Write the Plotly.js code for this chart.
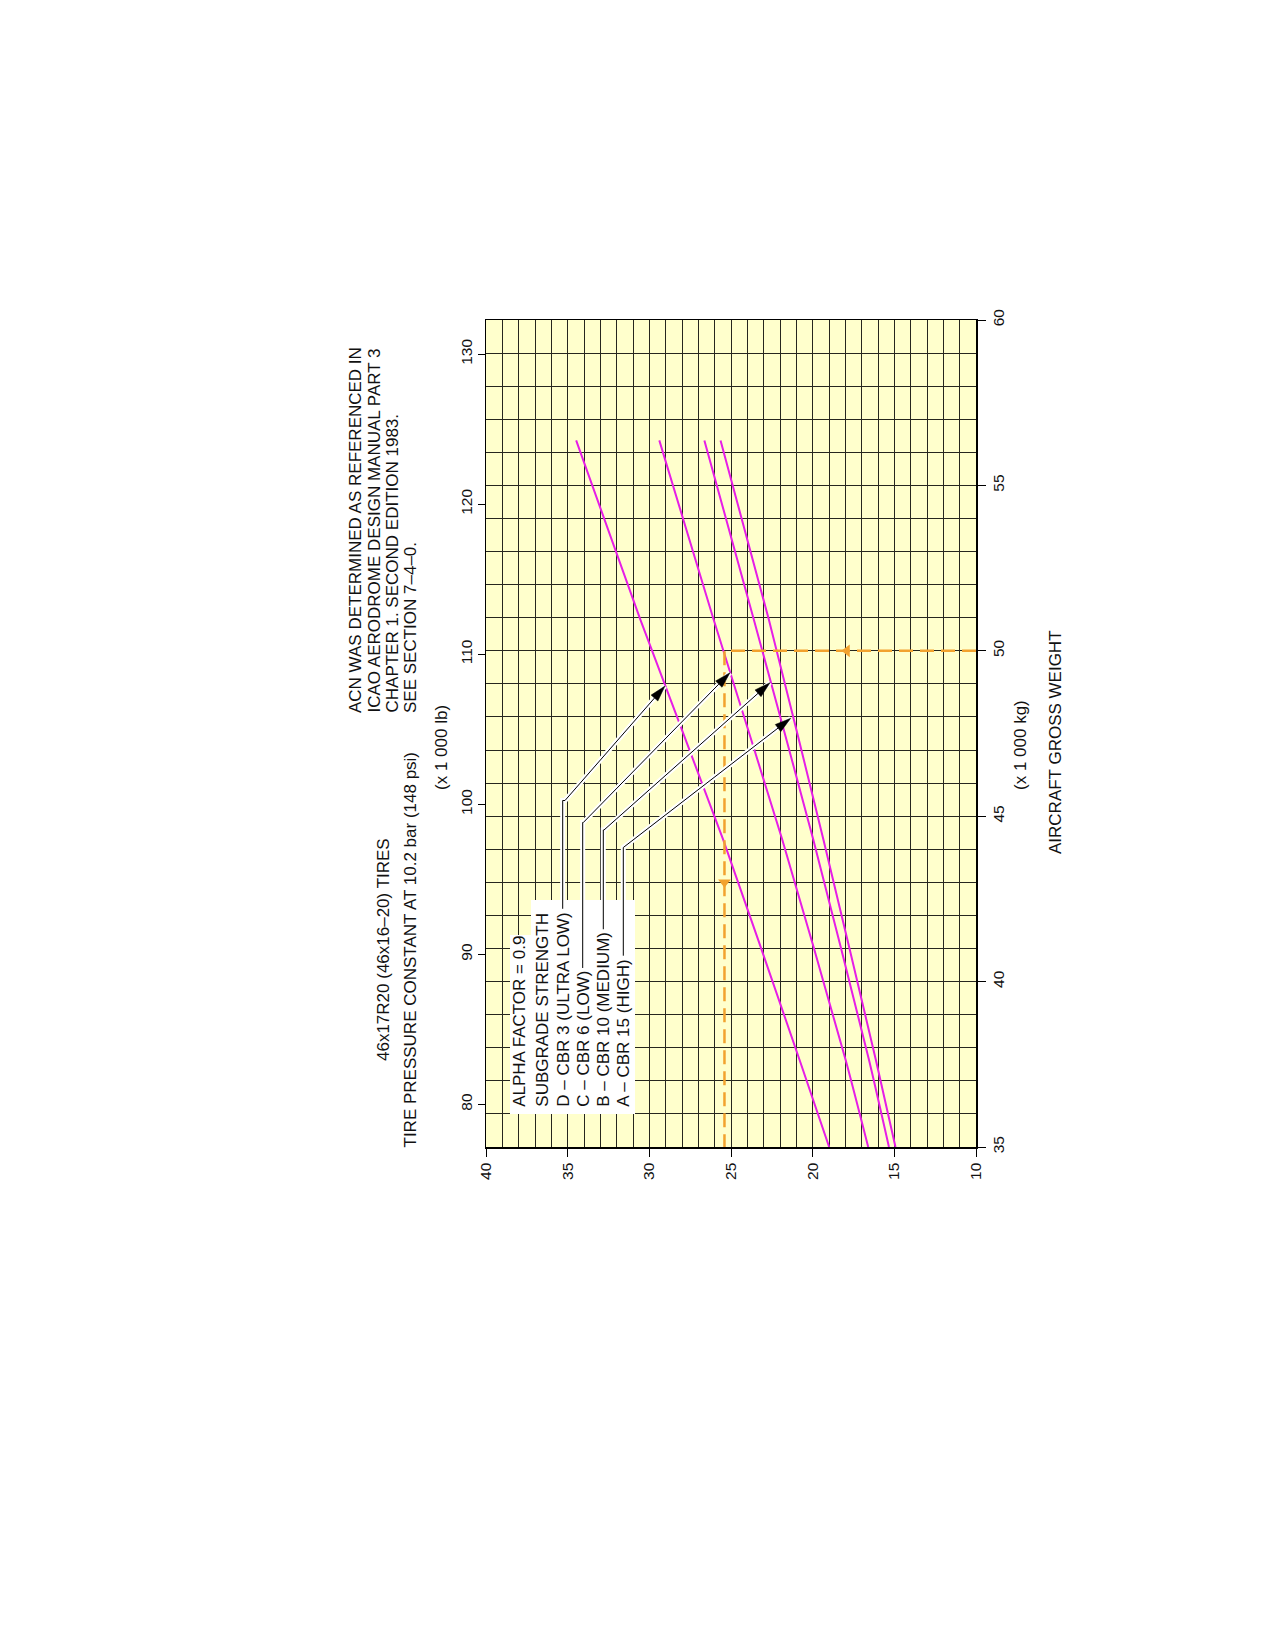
<!DOCTYPE html>
<html>
<head>
<meta charset="utf-8">
<script src="https://cdn.plot.ly/plotly-3.0.1.min.js"></script>
<style>
html,body{margin:0;padding:0;background:#fff;}
#chart{width:1275px;height:1645px;}
</style>
</head>
<body>
<div id="chart"></div>
<script>
// ---------------- DATA ----------------
const weightKg = [35, 37.63, 44.29, 50.94, 56.36];          // x 1000 kg
const acnD_CBR3  = [18.99, 20.80, 25.48, 30.55, 34.48];
const acnC_CBR6  = [16.60, 17.98, 21.86, 26.06, 29.39];
const acnB_CBR10 = [15.33, 16.55, 19.96, 23.60, 26.63];
const acnA_CBR15 = [14.93, 16.13, 19.34, 22.68, 25.64];

const exampleWeight = 50;     // x 1000 kg
const exampleACN = 25.4;
const exampleArrowACN = 17.9;
const exampleArrowWeight = 43;

const kgTicks = [35, 40, 45, 50, 55, 60];
const lbTicks = [80, 90, 100, 110, 120, 130];
const acnTicks = [40, 35, 30, 25, 20, 15, 10];
const KG_TO_LB = 2.20462;

const legendLabels = [
  "ALPHA FACTOR = 0.9",
  "SUBGRADE STRENGTH",
  "D \u2013 CBR 3 (ULTRA LOW)",
  "C \u2013 CBR 6 (LOW)",
  "B \u2013 CBR 10 (MEDIUM)",
  "A \u2013 CBR 15 (HIGH)"
];
const titleLines = ["46x17R20 (46x16\u201320) TIRES", "TIRE PRESSURE CONSTANT AT 10.2 bar (148 psi)"];
const noteLines = ["ACN WAS DETERMINED AS REFERENCED IN", "ICAO AERODROME DESIGN MANUAL PART 3",
                   "CHAPTER 1. SECOND EDITION 1983.", "SEE SECTION 7\u20134\u20130."];

// ---------------- LAYOUT GEOMETRY ----------------
const FONT = "'Liberation Sans', Arial, Helvetica, sans-serif";
const L = 486, T = 320, W = 490, H = 827;
const FIG_W = 1275, FIG_H = 1645;
function px(x){ return (x - L) / W; }
function py(y){ return (T + H - y) / H; }

const MAGENTA = '#E61EE6';
const ORANGE = '#F2A22E';
const GRID = '#26261e';

const traces = [];
[acnD_CBR3, acnC_CBR6, acnB_CBR10, acnA_CBR15].forEach(function(arr){
  traces.push({x: arr, y: weightKg, type:'scatter', mode:'lines',
    line:{color:MAGENTA, width:2, shape:'spline', smoothing:0.6},
    hoverinfo:'skip', showlegend:false});
});
traces.push({x:[10, exampleACN, exampleACN], y:[exampleWeight, exampleWeight, 35],
  type:'scatter', mode:'lines', line:{color:ORANGE, width:2.5, dash:'14px,7px'},
  hoverinfo:'skip', showlegend:false, cliponaxis:false});
traces.push({x:[exampleArrowACN, exampleACN], y:[exampleWeight, exampleArrowWeight],
  type:'scatter', mode:'markers',
  marker:{symbol:['triangle-left','triangle-down'], size:11, color:ORANGE},
  hoverinfo:'skip', showlegend:false});
// invisible trace to activate the lb axis
traces.push({x:[25], y:[100], yaxis:'y2', type:'scatter', mode:'markers',
  marker:{opacity:0}, hoverinfo:'skip', showlegend:false});

// ---------------- ANNOTATIONS ----------------
const annotations = [];
function ann(text, x, y, yanchor, size){
  annotations.push({text:text, xref:'paper', yref:'paper', x:px(x), y:py(y),
    xanchor:'center', yanchor:yanchor, textangle:-90, showarrow:false,
    font:{family:FONT, size:size, color:'#111'}});
}
const TXT = 17;
ann(titleLines[0], 383, 950, 'middle', TXT);
ann(titleLines[1], 409.5, 950, 'middle', TXT);
const noteX = [355, 373.5, 392, 410.5];
noteLines.forEach(function(t,i){ ann(t, noteX[i], 715, 'bottom', TXT); });
ann("(x 1 000 lb)", 441, 748, 'middle', TXT);
ann("(x 1 000 kg)", 1020, 745, 'middle', TXT);
ann("AIRCRAFT GROSS WEIGHT", 1055, 742, 'middle', TXT);

const legX = [519.3, 541.7, 562.7, 582.7, 603.3, 623.3];
const legStart = 1109;
legendLabels.forEach(function(t,i){ ann(t, legX[i], legStart, 'bottom', TXT); });

// ---------------- SHAPES (legend box & leader arrows) ----------------
const shapes = [];
function rectPx(x0,y0,x1,y1){
  shapes.push({type:'rect', xref:'paper', yref:'paper', layer:'above',
    x0:px(x0), x1:px(x1), y0:py(y0), y1:py(y1), fillcolor:'#ffffff', line:{width:0}});
}
rectPx(510, 935, 533, 1114);
rectPx(531, 900, 635, 1114);

const ctx = document.createElement('canvas').getContext('2d');
ctx.font = TXT + "px 'Liberation Sans'";
function textLen(t){ return ctx.measureText(t).width; }

function pathPx(pts, close){
  let s = '';
  pts.forEach(function(p,i){ s += (i===0?'M':'L') + px(p[0]).toFixed(5) + ',' + py(p[1]).toFixed(5) + ' '; });
  return s + (close?'Z':'');
}
// leader geometry in page pixels
const leaders = [
  {row:2, bend:[565, 800.5],   tip:[665, 686]},
  {row:3, bend:[583.3, 822.5], tip:[730, 672.7]},
  {row:4, bend:[604, 830],     tip:[770, 682.7]},
  {row:5, bend:[623.3, 847.5], tip:[790.7, 718.3]}
];
const halo = [], black = [];
leaders.forEach(function(ld){
  const x = legX[ld.row];
  const y0 = legStart - textLen(legendLabels[ld.row]) - 5;
  const dx = ld.tip[0]-ld.bend[0], dy = ld.tip[1]-ld.bend[1];
  const len = Math.hypot(dx,dy), ux = dx/len, uy = dy/len;
  const HL = 16, HW = 4.5;
  const base = [ld.tip[0]-ux*HL, ld.tip[1]-uy*HL];
  halo.push({pts:[[x,y0],[x,ld.bend[1]],ld.bend,ld.tip]});
  black.push({pts:[[x,y0],[x,ld.bend[1]],ld.bend,base],
    head:[ld.tip,[base[0]-uy*HW, base[1]+ux*HW],[base[0]+uy*HW, base[1]-ux*HW]]});
});
halo.forEach(function(h){
  shapes.push({type:'path', xref:'paper', yref:'paper', layer:'above',
    path:pathPx(h.pts,false), line:{color:'#ffffff', width:5}});
});
black.forEach(function(b){
  shapes.push({type:'path', xref:'paper', yref:'paper', layer:'above',
    path:pathPx(b.pts,false), line:{color:'#000000', width:1}});
  shapes.push({type:'path', xref:'paper', yref:'paper', layer:'above',
    path:pathPx(b.head,true), fillcolor:'#000000', line:{color:'#000000', width:0.5}});
});

// ---------------- AXES ----------------
const tickFont = {family:FONT, size:15.5, color:'#111'};
const layout = {
  width:FIG_W, height:FIG_H,
  margin:{l:L, r:FIG_W-L-W, t:T, b:FIG_H-T-H, pad:0},
  paper_bgcolor:'#ffffff', plot_bgcolor:'#FFFFCC',
  showlegend:false,
  xaxis:{range:[40,10], tickmode:'array', tickvals:acnTicks, ticktext:acnTicks.map(String),
    ticks:'outside', ticklen:8, tickwidth:1, tickcolor:'#000', tickangle:-90, tickfont:tickFont,
    showline:true, linecolor:'#000', linewidth:1.5, mirror:true,
    showgrid:true, gridcolor:GRID, gridwidth:1, zeroline:false,
    minor:{dtick:1, tick0:10, showgrid:true, gridcolor:GRID, gridwidth:1, ticks:''},
    fixedrange:true},
  yaxis:{range:[35,60], side:'right', tickmode:'array', tickvals:kgTicks, ticktext:kgTicks.map(String),
    ticks:'outside', ticklen:8, tickwidth:1, tickcolor:'#000', tickangle:-90, tickfont:tickFont,
    showline:true, linecolor:'#000', linewidth:1.5, mirror:true,
    showgrid:true, gridcolor:GRID, gridwidth:1, zeroline:false,
    minor:{dtick:1, tick0:35, showgrid:true, gridcolor:GRID, gridwidth:1, ticks:''},
    fixedrange:true},
  yaxis2:{range:[35*KG_TO_LB, 60*KG_TO_LB], overlaying:'y', side:'left',
    tickmode:'array', tickvals:lbTicks, ticktext:lbTicks.map(String),
    ticks:'outside', ticklen:7, tickwidth:1, tickcolor:'#000', tickangle:-90, tickfont:tickFont,
    showline:false, showgrid:false, zeroline:false, fixedrange:true},
  annotations:annotations,
  shapes:shapes
};

Plotly.newPlot('chart', traces, layout, {displayModeBar:false, staticPlot:true});
</script>
</body>
</html>
